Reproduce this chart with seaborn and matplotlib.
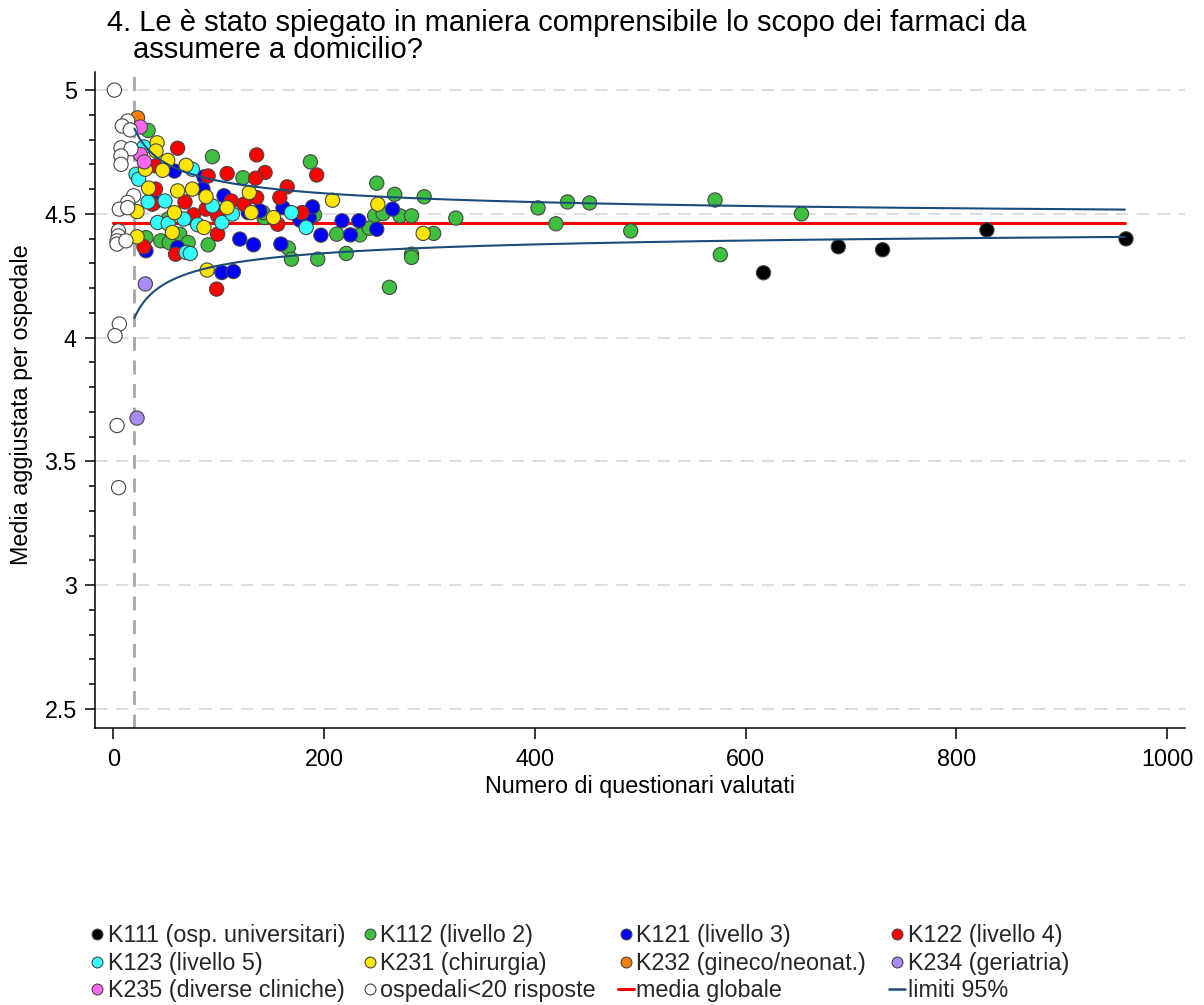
import numpy as np
import pandas as pd
import matplotlib
matplotlib.use("Agg")
import matplotlib.pyplot as plt
import seaborn as sns
from matplotlib.lines import Line2D
from matplotlib.ticker import FixedLocator

sns.set_theme(style="white")
plt.rcParams['font.family'] = ['Liberation Sans', 'DejaVu Sans']

# ---- data: number of questionnaires (n) and adjusted mean per hospital ----
k111_n = [617, 688, 730, 829, 961]
k111_y = [4.262, 4.367, 4.355, 4.435, 4.399]

k112_n = [33, 94, 187, 123, 143, 142, 212, 166, 169, 194, 45, 53, 63, 71, 31, 90, 52, 191, 221, 250,
          267, 295, 248, 256, 272, 283, 325, 234, 243, 304, 283, 283, 262, 403, 420, 431, 452, 491, 571, 576,
          653]
k112_y = [4.837, 4.731, 4.71, 4.646, 4.485, 4.505, 4.418, 4.362, 4.317, 4.317, 4.391, 4.384, 4.418, 4.384,
          4.404, 4.375, 4.479, 4.496, 4.34, 4.624, 4.579, 4.569, 4.492, 4.501, 4.492, 4.492, 4.483, 4.415,
          4.442, 4.421, 4.337, 4.324, 4.203, 4.524, 4.46, 4.548, 4.544, 4.431, 4.556, 4.335, 4.5]

k121_n = [58, 86, 85, 105, 128, 139, 161, 186, 189, 197, 120, 133, 159, 103, 114, 31, 61, 217, 233, 225,
          250, 265, 177, 39]
k121_y = [4.673, 4.649, 4.6, 4.573, 4.505, 4.512, 4.525, 4.485, 4.528, 4.414, 4.398, 4.375, 4.378, 4.263,
          4.267, 4.351, 4.364, 4.472, 4.472, 4.415, 4.438, 4.519, 4.475, 4.546]

k122_n = [61, 136, 193, 108, 144, 135, 90, 165, 158, 40, 40, 37, 68, 112, 88, 124, 136, 99, 99, 156,
          179, 98, 29, 59, 76]
k122_y = [4.765, 4.738, 4.657, 4.663, 4.667, 4.644, 4.653, 4.609, 4.566, 4.694, 4.6, 4.539, 4.548, 4.552,
          4.519, 4.539, 4.566, 4.492, 4.418, 4.458, 4.505, 4.196, 4.367, 4.337, 4.496]

k123_n = [29, 21.5, 24, 75, 33, 49, 94, 103, 80, 169, 183, 42, 52, 67, 69, 73, 113]
k123_y = [4.77, 4.66, 4.64, 4.68, 4.548, 4.552, 4.532, 4.465, 4.456, 4.505, 4.445, 4.465, 4.461, 4.479,
          4.344, 4.34, 4.499]

k231_n = [41.5, 40.5, 51.6, 46.8, 30.4, 69, 208, 33.5, 61, 75, 88, 108, 129, 86, 131, 152, 89, 56, 22.5,
          58, 22.5, 251, 294]
k231_y = [4.787, 4.754, 4.716, 4.676, 4.68, 4.696, 4.555, 4.604, 4.593, 4.6, 4.569, 4.525, 4.586, 4.445,
          4.505, 4.485, 4.273, 4.425, 4.407, 4.505, 4.509, 4.539, 4.421]

k232_n = [23]
k232_y = [4.888]

k234_n = [22.5, 30.4]
k234_y = [3.675, 4.217]

k235_n = [25.6, 25.6, 29.4]
k235_y = [4.851, 4.74, 4.71]

small_n = [1, 13.6, 8.5, 16, 7.3, 16.8, 7.3, 7.3, 19.3, 13.6, 5.7, 13.6, 4.8, 4.8, 3.5, 3.5, 12, 5.7,
           1.6, 3.5, 5]
small_y = [5.0, 4.875, 4.855, 4.839, 4.767, 4.763, 4.734, 4.70, 4.573, 4.546, 4.519, 4.525, 4.431,
           4.411, 4.391, 4.378, 4.391, 4.055, 4.008, 3.645, 3.394]

group_labels = ["K111 (osp. universitari)", "K112 (livello 2)", "K121 (livello 3)", "K122 (livello 4)",
                "K123 (livello 5)", "K231 (chirurgia)", "K232 (gineco/neonat.)", "K234 (geriatria)",
                "K235 (diverse cliniche)", "ospedali<20 risposte"]
group_colors = ["#000000", "#3FBF3F", "#0000FF", "#FF0000", "#33FFFF", "#FFE600", "#FF7F00",
                "#A98BF5", "#FF66F0", "#FFFFFF"]

global_mean = 4.462      # media globale
z_sd = 1.71              # 1.96 * standard deviation of the individual answers
n_min, n_max = 20, 960   # funnel limits drawn from the 20-answer threshold

# ---- assemble table ----
series = [(k111_n, k111_y), (k112_n, k112_y), (k121_n, k121_y), (k122_n, k122_y), (k123_n, k123_y),
          (k231_n, k231_y), (k232_n, k232_y), (k234_n, k234_y), (k235_n, k235_y), (small_n, small_y)]
rows = []
for lab, (ns, ys) in zip(group_labels, series):
    for n, y in zip(ns, ys):
        rows.append({"n": n, "media": y, "gruppo": lab})
df = pd.DataFrame(rows)
palette = dict(zip(group_labels, group_colors))

n_grid = np.linspace(n_min, n_max, 400)
limits = pd.DataFrame({
    "n": np.concatenate([n_grid, n_grid]),
    "lim": np.concatenate([global_mean + z_sd / np.sqrt(n_grid), global_mean - z_sd / np.sqrt(n_grid)]),
    "side": ["sup"] * len(n_grid) + ["inf"] * len(n_grid),
})

FS = 16.8

# ---- figure ----
fig = plt.figure(figsize=(12.04, 10.05), dpi=100)
ax = fig.add_axes([95 / 1204, 1 - 728 / 1005, (1185 - 95) / 1204, (728 - 72) / 1005])

ax.set_xlim(-17.4, 1017)
ax.set_ylim(2.423, 5.073)

for yv in [2.5, 3, 3.5, 4, 4.5, 5]:
    ax.axhline(yv, color="#DDDDDD", lw=1.5, dashes=(6, 4), zorder=0)
ax.axvline(20, color="#A6A6A6", lw=2, dashes=(5, 3.5), zorder=1)

nav = "#1B4B78"
ax.plot([0, n_max], [global_mean, global_mean], color="#FF0000", lw=2.2, zorder=2)

sns.scatterplot(data=df, x="n", y="media", hue="gruppo", palette=palette, hue_order=group_labels,
                s=105, edgecolor="#454545", linewidth=0.8, legend=False, ax=ax, zorder=3)

sns.lineplot(data=limits, x="n", y="lim", units="side", estimator=None, color=nav, lw=1.5,
             ax=ax, zorder=4)

# ---- axes styling ----
for sp in ["top", "right"]:
    ax.spines[sp].set_visible(False)
for sp in ["left", "bottom"]:
    ax.spines[sp].set_color("black")
    ax.spines[sp].set_linewidth(1.1)

ax.xaxis.set_major_locator(FixedLocator([0, 200, 400, 600, 800, 1000]))
ax.yaxis.set_major_locator(FixedLocator([2.5, 3, 3.5, 4, 4.5, 5]))
ax.yaxis.set_minor_locator(FixedLocator([2.6, 2.7, 2.8, 2.9, 3.1, 3.2, 3.3, 3.4, 3.6, 3.7, 3.8, 3.9,
                                         4.1, 4.2, 4.3, 4.4, 4.6, 4.7, 4.8, 4.9]))
ax.set_yticklabels(["2.5", "3", "3.5", "4", "4.5", "5"])
ax.set_xticklabels(["0", "200", "400", "600", "800", "1000"])
ax.tick_params(axis="x", which="major", direction="out", length=8, width=1.1, color="black",
               labelsize=FS, labelcolor="black", pad=6.5, bottom=True)
ax.tick_params(axis="y", which="major", direction="out", length=7.2, width=1.1, color="black",
               labelsize=FS, labelcolor="black", pad=6, left=True)
ax.tick_params(axis="y", which="minor", direction="out", length=4.2, width=1.1, color="black", left=True)
ax.set_xlabel("")
ax.set_ylabel("")
ax.grid(False)

fig.text(640 / 1204, 1 - 786 / 1005, "Numero di questionari valutati", ha="center", va="center",
         fontsize=FS, color="black")
fig.text(22 / 1204, 1 - 405 / 1005, "Media aggiustata per ospedale", ha="center", va="center",
         rotation=90, fontsize=FS, color="black")

fig.text(107 / 1204, 1 - 23 / 1005, "4. Le è stato spiegato in maniera comprensibile lo scopo dei farmaci da",
         ha="left", va="center", fontsize=21, color="black")
fig.text(133 / 1204, 1 - 50 / 1005, "assumere a domicilio?", ha="left", va="center", fontsize=21,
         color="black")

# ---- legend: 4 columns x 3 rows ----
def marker_handle(color):
    return Line2D([], [], ls="none", marker="o", markersize=7.8, markerfacecolor=color,
                  markeredgecolor="#454545", markeredgewidth=0.8)

handles = [marker_handle(c) for c in group_colors]
handles.append(Line2D([], [], color="#FF0000", lw=2.2))
handles.append(Line2D([], [], color=nav, lw=1.8))
labels = group_labels + ["media globale", "limiti 95%"]

marker_x = [97, 370, 626, 897]
hl = 0.7
for c in range(4):
    idx = [r * 4 + c for r in range(3)]
    left = marker_x[c] - hl * FS * 100 / 72 / 2
    fig.legend([handles[i] for i in idx], [labels[i] for i in idx], loc="upper left",
               bbox_to_anchor=(left / 1204, 1 - 924 / 1005), frameon=False, fontsize=FS,
               handlelength=hl, handletextpad=0.1, labelspacing=0.2, borderpad=0, borderaxespad=0)

fig.savefig("out.png", dpi=100, facecolor="white")
